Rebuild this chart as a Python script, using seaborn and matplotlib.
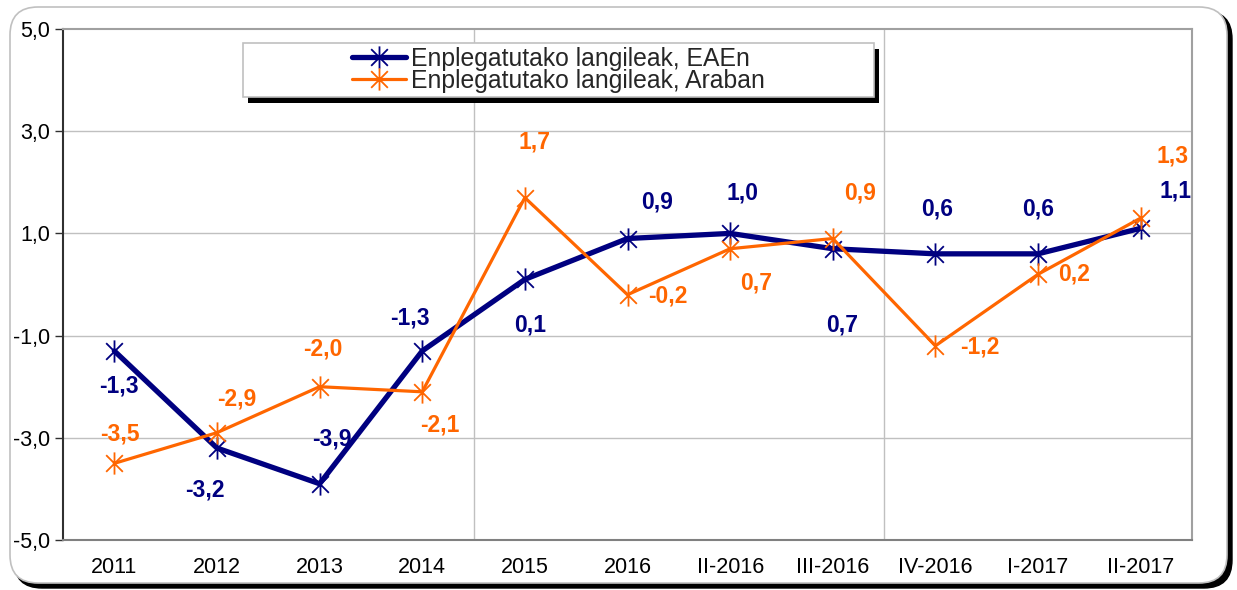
import matplotlib
matplotlib.use("Agg")
import matplotlib.pyplot as plt
import seaborn as sns
import numpy as np
import pandas as pd
from matplotlib.path import Path
from matplotlib.patches import FancyBboxPatch, Rectangle
from matplotlib.transforms import IdentityTransform
from matplotlib.lines import Line2D

# ---- data ----
categories = ["2011", "2012", "2013", "2014", "2015", "2016",
              "II-2016", "III-2016", "IV-2016", "I-2017", "II-2017"]
eaen = [-1.3, -3.2, -3.9, -1.3, 0.1, 0.9, 1.0, 0.7, 0.6, 0.6, 1.1]
araban = [-3.5, -2.9, -2.0, -2.1, 1.7, -0.2, 0.7, 0.9, -1.2, 0.2, 1.3]
series_names = ["Enplegatutako langileak, EAEn", "Enplegatutako langileak, Araban"]
y_ticks = [-5, -3, -1, 1, 3, 5]
y_ticklabels = ["-5,0", "-3,0", "-1,0", "1,0", "3,0", "5,0"]

# label offsets (points) relative to each data point
eaen_off = [(3.6, -25), (-9, -30), (9, 32), (-9, 24), (4, -33), (21, 26),
            (9, 29), (7, -55), (1, 32), (0, 32), (25, 27)]
araban_off = [(4, 21), (14, 24), (2, 27), (13, -24), (7, 40), (29, -1),
              (19, -25), (20, 33), (32, -1), (26, 0), (23, 45)]

NAVY = "#000080"
ORANGE = "#FF6600"

sns.set_theme(style="white")
plt.rcParams["font.family"] = ["Liberation Sans", "DejaVu Sans"]

W, H = 1237, 590
fig = plt.figure(figsize=(W / 100, H / 100), dpi=100)
fig.patch.set_facecolor("white")

# outer rounded frame with shadow
shadow = FancyBboxPatch((14, 2), 1218, 577, boxstyle="round,pad=0,rounding_size=28",
                        transform=IdentityTransform(), facecolor="black",
                        edgecolor="black", zorder=-2)
frame = FancyBboxPatch((10, 7), 1217, 576, boxstyle="round,pad=0,rounding_size=28",
                       transform=IdentityTransform(), facecolor="white",
                       edgecolor="#c0c0c0", linewidth=1.2, zorder=-1)
fig.patches.extend([shadow, frame])

ax = fig.add_axes([63 / W, 1 - 540 / H, (1192 - 63) / W, (540 - 29) / H])
ax.set_facecolor("white")

# asterisk marker: vertical + two diagonals
star = Path([(0, -1), (0, 1), (-0.75, -0.75), (0.75, 0.75), (-0.75, 0.75), (0.75, -0.75)],
            [Path.MOVETO, Path.LINETO, Path.MOVETO, Path.LINETO, Path.MOVETO, Path.LINETO])

df = pd.DataFrame({"cat": categories, "EAEn": eaen, "Araban": araban})

sns.lineplot(data=df, x="cat", y="EAEn", sort=False, ax=ax, color=NAVY, lw=3.8,
             marker=star, markersize=16, markeredgewidth=1.3, markeredgecolor=NAVY,
             markerfacecolor="none", zorder=3)
sns.lineplot(data=df, x="cat", y="Araban", sort=False, ax=ax, color=ORANGE, lw=2.3,
             marker=star, markersize=16, markeredgewidth=1.3, markeredgecolor=ORANGE,
             markerfacecolor="none", zorder=4)

ax.set_xlim(-0.5, len(categories) - 0.5)
ax.set_ylim(-5, 5)
ax.set_yticks(y_ticks)
ax.set_yticklabels(y_ticklabels)
ax.set_xticks(range(len(categories)))
ax.set_xticklabels(categories)
ax.set_xlabel("")
ax.set_ylabel("")

# grid
for yv in y_ticks[1:-1]:
    ax.axhline(yv, color="#c0c0c0", lw=1, zorder=1)
for xv in [3.5, 7.5]:
    ax.axvline(xv, color="#c0c0c0", lw=1, zorder=1)

for s in ["top", "right"]:
    ax.spines[s].set_color("#a0a0a0")
    ax.spines[s].set_linewidth(1.5)
ax.spines["bottom"].set_color("#808080")
ax.spines["bottom"].set_linewidth(1.5)
ax.spines["left"].set_color("#303030")
ax.spines["left"].set_linewidth(1.5)

ax.tick_params(axis="y", which="both", left=True, length=6, width=1, color="#303030",
               labelsize=15.5, pad=3, labelcolor="black")
ax.tick_params(axis="x", length=0, labelsize=15.5, pad=12, labelcolor="black")

# data labels
for vals, offs, col in [(eaen, eaen_off, NAVY), (araban, araban_off, ORANGE)]:
    for i, (v, o) in enumerate(zip(vals, offs)):
        ax.annotate(f"{v:.1f}".replace(".", ","), (i, v), xytext=o,
                    textcoords="offset points", ha="center", va="center",
                    fontsize=16.5, fontweight="bold", color=col, zorder=6)

# legend box with shadow (pixel coords, bottom origin)
lx0, lx1, ly_top, ly_bot = 243, 874, 43, 97
ax.add_patch(Rectangle((lx0 + 5, H - ly_bot - 6), lx1 - lx0, ly_bot - ly_top,
                       transform=IdentityTransform(), facecolor="black",
                       edgecolor="none", zorder=7, clip_on=False))
ax.add_patch(Rectangle((lx0, H - ly_bot), lx1 - lx0, ly_bot - ly_top,
                       transform=IdentityTransform(), facecolor="white",
                       edgecolor="#c0c0c0", lw=1.2, zorder=8, clip_on=False))
handles = [Line2D([], [], color=NAVY, lw=3.8, marker=star, markersize=16,
                  markeredgewidth=1.3, markerfacecolor="none"),
           Line2D([], [], color=ORANGE, lw=2.3, marker=star, markersize=16,
                  markeredgewidth=1.3, markerfacecolor="none")]
leg = ax.legend(handles, series_names, loc="center",
                bbox_to_anchor=((lx0 + lx1) / 2 / W, 1 - (ly_top + ly_bot) / 2 / H),
                bbox_transform=fig.transFigure, frameon=False, fontsize=17.8,
                handlelength=2.2, handletextpad=0.2, labelspacing=-0.08,
                borderpad=0, borderaxespad=0)
leg.set_zorder(9)

fig.savefig("out.png", dpi=100, facecolor="white")
